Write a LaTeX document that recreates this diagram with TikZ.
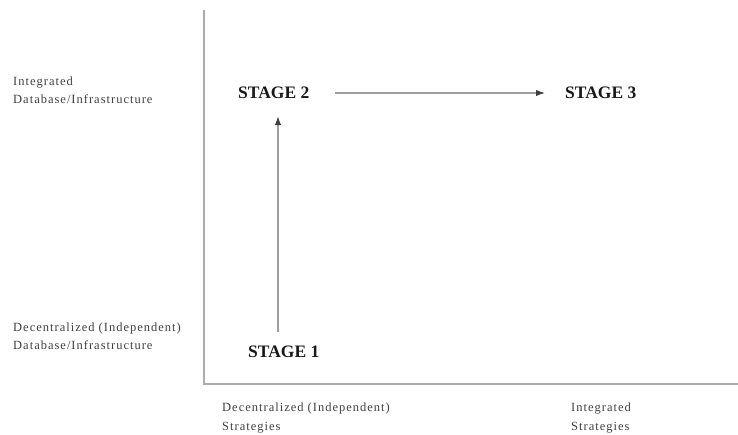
\documentclass[tikz,border=0pt]{standalone}
\usepackage{fontspec}
\setmainfont{Liberation Serif}
\newfontfamily\lblfont[LetterSpace=8]{Liberation Serif}
\usetikzlibrary{arrows.meta,positioning}

\begin{document}
\begin{tikzpicture}[
    x=1pt, y=1pt,
    stage/.style={
        inner sep=0pt, text=black!90,
        font=\fontsize{17.5}{19}\selectfont\bfseries
    },
    axislabel/.style={
        inner sep=0pt, align=left, text=black!75,
        font=\lblfont\fontsize{12.5}{18.5}\selectfont
    },
    axis/.style={line width=1.6pt, gray!65},
    arrow/.style={-{Latex[length=9pt,width=6.5pt,fill=black!75,color=black!75]}, line width=1.3pt, gray!75}
]
\useasboundingbox (0,0) rectangle (738,434);

% Achsen
\coordinate (origin) at (204,50);
\coordinate (ytop) at (204,424);
\coordinate (xend) at (738,50);
\draw[axis] (ytop) -- (origin) -- (xend);

% Beschriftung y-Achse
\node[axislabel, anchor=west] (yhigh) at (13,344) {Integrated\\Database/Infrastructure};
\node[axislabel, anchor=west] (ylow) at (13,98) {Decentralized (Independent)\\Database/Infrastructure};

% Beschriftung x-Achse
\node[axislabel, anchor=west] (xlow) at (222,16) {Decentralized (Independent)\\Strategies};
\node[axislabel, anchor=west] (xhigh) at (571,16) {Integrated\\Strategies};

% Stufen
\node[stage, anchor=west] (stage2) at (238,341) {STAGE 2};
\node[stage, anchor=west] (stage3) at (565,341) {STAGE 3};
\node[stage, anchor=west] (stage1) at (248,82) {STAGE 1};

% Uebergaenge
\coordinate (vx) at (278,0);
\draw[arrow, shorten <=25pt, shorten >=20pt] (stage2.east) -- (stage3.west);
\draw[arrow, shorten <=14pt, shorten >=17pt] (stage1.north -| vx) -- (stage2.south -| vx);

\end{tikzpicture}
\end{document}
